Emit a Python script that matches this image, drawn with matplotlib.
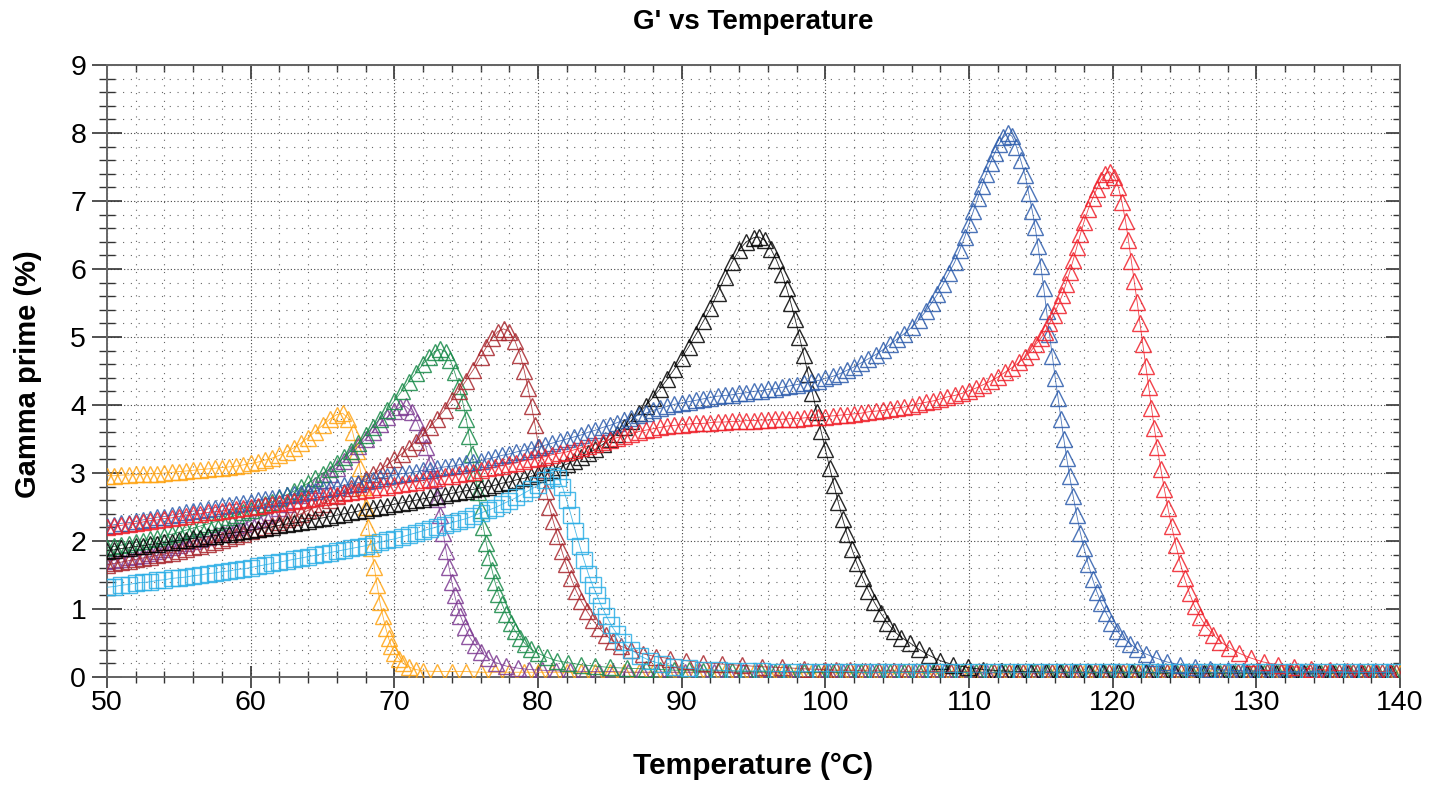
import matplotlib
matplotlib.use("Agg")
import matplotlib.pyplot as plt
from matplotlib.ticker import MultipleLocator

# ---------------- data ----------------
# ORANGE
orange_T_rise = [50.0, 50.5, 51.0, 51.5, 52.0, 52.5, 53.0, 53.5, 54.0, 54.5,
                 55.0, 55.5, 56.0, 56.5, 57.0, 57.5, 58.0, 58.5, 59.0, 59.5,
                 60.0, 60.5, 61.0, 61.5, 62.0, 62.5, 63.0, 63.5, 64.0, 64.5,
                 65.0, 65.5]
orange_V_rise = [2.96, 2.96, 2.97, 2.97, 2.98, 2.98, 2.99, 2.99, 3.00, 3.01,
                 3.02, 3.03, 3.04, 3.05, 3.06, 3.07, 3.08, 3.09, 3.10, 3.12,
                 3.14, 3.16, 3.19, 3.22, 3.26, 3.31, 3.37, 3.44, 3.52, 3.61,
                 3.70, 3.79]
orange_T_peak = [66.0, 66.4, 66.8, 67.1, 67.4, 67.6, 67.8, 68.0, 68.2, 68.4,
                 68.6, 68.8, 69.0, 69.2, 69.4, 69.6, 69.8, 70.0, 70.3, 70.6,
                 71.0, 71.5]
orange_V_peak = [3.86, 3.88, 3.80, 3.60, 3.33, 3.08, 2.80, 2.50, 2.20, 1.90,
                 1.62, 1.35, 1.10, 0.90, 0.72, 0.57, 0.45, 0.36, 0.27, 0.20,
                 0.15, 0.11]
orange_T_tail = [72, 73, 74, 75, 76, 77, 78, 79, 80, 81,
                 82, 83, 84, 85, 86, 87, 88, 89, 90, 91,
                 92, 93, 94, 95, 96, 97, 98, 99, 100, 101,
                 102, 103, 104, 105, 106, 107, 108, 109, 110, 111,
                 112, 113, 114, 115, 116, 117, 118, 119, 120, 121,
                 122, 123, 124, 125, 126, 127, 128, 129, 130, 131,
                 132, 133, 134, 135, 136, 137, 138, 139, 140]
orange_V_tail = [0.09, 0.08, 0.08, 0.08, 0.07, 0.07, 0.07, 0.07, 0.07, 0.07,
                 0.07, 0.07, 0.07, 0.07, 0.07, 0.07, 0.07, 0.07, 0.07, 0.07,
                 0.07, 0.07, 0.07, 0.07, 0.06, 0.06, 0.06, 0.06, 0.06, 0.06,
                 0.06, 0.06, 0.06, 0.06, 0.06, 0.06, 0.06, 0.06, 0.06, 0.06,
                 0.06, 0.06, 0.06, 0.06, 0.06, 0.06, 0.06, 0.06, 0.06, 0.06,
                 0.06, 0.06, 0.06, 0.06, 0.06, 0.06, 0.06, 0.06, 0.06, 0.06,
                 0.06, 0.06, 0.06, 0.06, 0.06, 0.06, 0.06, 0.06, 0.06]

# PURPLE
purple_T_rise = [50.0, 50.5, 51.0, 51.5, 52.0, 52.5, 53.0, 53.5, 54.0, 54.5,
                 55.0, 55.5, 56.0, 56.5, 57.0, 57.5, 58.0, 58.5, 59.0, 59.5,
                 60.0, 60.5, 61.0, 61.5, 62.0, 62.5, 63.0, 63.5, 64.0, 64.5,
                 65.0, 65.5, 66.0, 66.5, 67.0, 67.5, 68.0, 68.5, 69.0, 69.5]
purple_V_rise = [1.70, 1.72, 1.74, 1.76, 1.78, 1.80, 1.83, 1.85, 1.88, 1.91,
                 1.94, 1.97, 2.00, 2.03, 2.06, 2.10, 2.13, 2.17, 2.21, 2.25,
                 2.29, 2.33, 2.38, 2.43, 2.48, 2.54, 2.60, 2.67, 2.74, 2.82,
                 2.90, 2.99, 3.08, 3.18, 3.28, 3.39, 3.50, 3.61, 3.72, 3.82]
purple_T_peak = [70.0, 70.4, 70.8, 71.2, 71.6, 71.9, 72.2, 72.5, 72.75, 73.0,
                 73.2, 73.4, 73.6, 73.8, 74.0, 74.2, 74.4, 74.6, 74.9, 75.2,
                 75.6, 76.0, 76.5, 77.1, 77.8, 78.6, 79.4]
purple_V_peak = [3.91, 3.97, 3.98, 3.90, 3.75, 3.58, 3.38, 3.15, 2.90, 2.62,
                 2.38, 2.12, 1.86, 1.62, 1.40, 1.20, 1.03, 0.90, 0.74, 0.60,
                 0.47, 0.37, 0.28, 0.21, 0.16, 0.13, 0.11]
purple_T_tail = [80.25, 81.25, 82.25, 83.25, 84.25, 85.25, 86.25, 87.25, 88.25, 89.25,
                 90.25, 91.25, 92.25, 93.25, 94.25, 95.25, 96.25, 97.25, 98.25, 99.25,
                 100.25, 101.25, 102.25, 103.25, 104.25, 105.25, 106.25, 107.25, 108.25, 109.25,
                 110.25, 111.25, 112.25, 113.25, 114.25, 115.25, 116.25, 117.25, 118.25, 119.25,
                 120.25, 121.25, 122.25, 123.25, 124.25, 125.25, 126.25, 127.25, 128.25, 129.25,
                 130.25, 131.25, 132.25, 133.25, 134.25, 135.25, 136.25, 137.25, 138.25, 139.25]
purple_V_tail = [0.10, 0.09, 0.09, 0.08, 0.08, 0.08, 0.07, 0.07, 0.07, 0.07,
                 0.07, 0.07, 0.07, 0.07, 0.07, 0.07, 0.07, 0.07, 0.07, 0.07,
                 0.07, 0.07, 0.07, 0.07, 0.07, 0.07, 0.07, 0.07, 0.07, 0.07,
                 0.06, 0.06, 0.06, 0.06, 0.06, 0.06, 0.06, 0.06, 0.06, 0.06,
                 0.06, 0.06, 0.06, 0.06, 0.06, 0.06, 0.06, 0.06, 0.06, 0.06,
                 0.06, 0.06, 0.06, 0.06, 0.06, 0.06, 0.06, 0.06, 0.06, 0.06]

# GREEN
green_T_rise = [50.0, 50.5, 51.0, 51.5, 52.0, 52.5, 53.0, 53.5, 54.0, 54.5,
                55.0, 55.5, 56.0, 56.5, 57.0, 57.5, 58.0, 58.5, 59.0, 59.5,
                60.0, 60.5, 61.0, 61.5, 62.0, 62.5, 63.0, 63.5, 64.0, 64.5,
                65.0, 65.5, 66.0, 66.5, 67.0, 67.5, 68.0, 68.5, 69.0, 69.5,
                70.0, 70.5, 71.0, 71.5]
green_V_rise = [1.90, 1.92, 1.94, 1.96, 1.98, 2.00, 2.03, 2.05, 2.08, 2.10,
                2.13, 2.16, 2.19, 2.22, 2.25, 2.28, 2.31, 2.35, 2.38, 2.42,
                2.46, 2.50, 2.54, 2.58, 2.63, 2.68, 2.73, 2.79, 2.85, 2.92,
                2.99, 3.06, 3.14, 3.23, 3.33, 3.44, 3.56, 3.68, 3.80, 3.93,
                4.06, 4.20, 4.34, 4.47]
green_T_peak = [72.0, 72.4, 72.8, 73.2, 73.6, 73.9, 74.2, 74.5, 74.75, 75.0,
                75.2, 75.4, 75.6, 75.8, 76.0, 76.2, 76.4, 76.6, 76.8, 77.0,
                77.25, 77.5, 77.8, 78.1, 78.4, 78.75, 79.1, 79.5, 80.0, 80.6,
                81.3, 82.1, 83.0, 84.0, 85.0, 86.2, 87.5]
green_V_peak = [4.60, 4.70, 4.78, 4.82, 4.78, 4.66, 4.48, 4.28, 4.05, 3.80,
                3.55, 3.28, 3.00, 2.72, 2.45, 2.20, 1.97, 1.76, 1.57, 1.40,
                1.22, 1.07, 0.92, 0.79, 0.68, 0.58, 0.49, 0.41, 0.35, 0.29,
                0.24, 0.21, 0.18, 0.16, 0.14, 0.13, 0.12]
green_T_tail = [88.5, 89.5, 90.5, 91.5, 92.5, 93.5, 94.5, 95.5, 96.5, 97.5,
                98.5, 99.5, 100.5, 101.5, 102.5, 103.5, 104.5, 105.5, 106.5, 107.5,
                108.5, 109.5, 110.5, 111.5, 112.5, 113.5, 114.5, 115.5, 116.5, 117.5,
                118.5, 119.5, 120.5, 121.5, 122.5, 123.5, 124.5, 125.5, 126.5, 127.5,
                128.5, 129.5, 130.5, 131.5, 132.5, 133.5, 134.5, 135.5, 136.5, 137.5,
                138.5, 139.5]
green_V_tail = [0.11, 0.10, 0.10, 0.09, 0.09, 0.09, 0.08, 0.08, 0.08, 0.08,
                0.07, 0.07, 0.07, 0.07, 0.07, 0.07, 0.07, 0.07, 0.07, 0.07,
                0.07, 0.07, 0.07, 0.07, 0.07, 0.07, 0.07, 0.07, 0.07, 0.07,
                0.06, 0.06, 0.06, 0.06, 0.06, 0.06, 0.06, 0.06, 0.06, 0.06,
                0.06, 0.06, 0.06, 0.06, 0.06, 0.06, 0.06, 0.06, 0.06, 0.06,
                0.06, 0.06]

# DARK RED
darkred_T_rise = [50.0, 50.5, 51.0, 51.5, 52.0, 52.5, 53.0, 53.5, 54.0, 54.5,
                  55.0, 55.5, 56.0, 56.5, 57.0, 57.5, 58.0, 58.5, 59.0, 59.5,
                  60.0, 60.5, 61.0, 61.5, 62.0, 62.5, 63.0, 63.5, 64.0, 64.5,
                  65.0, 65.5, 66.0, 66.5, 67.0, 67.5, 68.0, 68.5, 69.0, 69.5,
                  70.0, 70.5, 71.0, 71.5, 72.0, 72.5, 73.0, 73.5, 74.0, 74.5,
                  75.0, 75.5]
darkred_V_rise = [1.65, 1.67, 1.69, 1.71, 1.73, 1.75, 1.77, 1.79, 1.81, 1.83,
                  1.86, 1.88, 1.91, 1.93, 1.96, 1.99, 2.02, 2.05, 2.08, 2.11,
                  2.14, 2.17, 2.21, 2.24, 2.28, 2.32, 2.36, 2.40, 2.45, 2.50,
                  2.55, 2.60, 2.66, 2.72, 2.78, 2.84, 2.91, 2.98, 3.05, 3.12,
                  3.20, 3.28, 3.37, 3.46, 3.56, 3.68, 3.80, 3.93, 4.07, 4.21,
                  4.36, 4.52]
darkred_T_peak = [76.0, 76.4, 76.8, 77.2, 77.6, 78.0, 78.4, 78.75, 79.05, 79.3,
                  79.55, 79.8, 80.05, 80.3, 80.55, 80.8, 81.05, 81.35, 81.65, 81.95,
                  82.3, 82.65, 83.0, 83.4, 83.8, 84.25, 84.7, 85.2, 85.8, 86.5,
                  87.3, 88.2, 89.2, 90.3, 91.5, 92.8, 94.2, 95.6, 97.0, 98.5,
                  100.0]
darkred_V_peak = [4.70, 4.85, 4.98, 5.08, 5.12, 5.08, 4.94, 4.74, 4.50, 4.25,
                  3.98, 3.70, 3.38, 3.04, 2.74, 2.50, 2.30, 2.08, 1.86, 1.66,
                  1.45, 1.27, 1.12, 0.97, 0.84, 0.72, 0.62, 0.53, 0.45, 0.39,
                  0.34, 0.30, 0.27, 0.24, 0.21, 0.19, 0.17, 0.15, 0.14, 0.12,
                  0.11]
darkred_T_tail = [100.75, 101.75, 102.75, 103.75, 104.75, 105.75, 106.75, 107.75, 108.75, 109.75,
                  110.75, 111.75, 112.75, 113.75, 114.75, 115.75, 116.75, 117.75, 118.75, 119.75,
                  120.75, 121.75, 122.75, 123.75, 124.75, 125.75, 126.75, 127.75, 128.75, 129.75,
                  130.75, 131.75, 132.75, 133.75, 134.75, 135.75, 136.75, 137.75, 138.75, 139.75]
darkred_V_tail = [0.10, 0.10, 0.09, 0.09, 0.09, 0.08, 0.08, 0.08, 0.08, 0.08,
                  0.07, 0.07, 0.07, 0.07, 0.07, 0.07, 0.07, 0.07, 0.07, 0.07,
                  0.07, 0.07, 0.07, 0.07, 0.07, 0.07, 0.07, 0.07, 0.07, 0.07,
                  0.07, 0.07, 0.07, 0.07, 0.07, 0.07, 0.07, 0.07, 0.07, 0.07]

# CYAN (squares)
cyan_T_rise = [50.0, 50.5, 51.0, 51.5, 52.0, 52.5, 53.0, 53.5, 54.0, 54.5,
               55.0, 55.5, 56.0, 56.5, 57.0, 57.5, 58.0, 58.5, 59.0, 59.5,
               60.0, 60.5, 61.0, 61.5, 62.0, 62.5, 63.0, 63.5, 64.0, 64.5,
               65.0, 65.5, 66.0, 66.5, 67.0, 67.5, 68.0, 68.5, 69.0, 69.5,
               70.0, 70.5, 71.0, 71.5, 72.0, 72.5, 73.0, 73.5, 74.0, 74.5,
               75.0, 75.5, 76.0, 76.5, 77.0, 77.5, 78.0, 78.5, 79.0, 79.5,
               80.0, 80.5]
cyan_V_rise = [1.32, 1.33, 1.35, 1.36, 1.38, 1.39, 1.40, 1.42, 1.43, 1.45,
               1.46, 1.47, 1.49, 1.50, 1.52, 1.53, 1.55, 1.56, 1.58, 1.59,
               1.61, 1.63, 1.65, 1.67, 1.69, 1.71, 1.73, 1.75, 1.77, 1.79,
               1.81, 1.83, 1.85, 1.87, 1.89, 1.91, 1.93, 1.96, 1.98, 2.01,
               2.03, 2.06, 2.09, 2.12, 2.15, 2.18, 2.21, 2.24, 2.27, 2.30,
               2.33, 2.37, 2.41, 2.45, 2.49, 2.54, 2.59, 2.64, 2.70, 2.76,
               2.82, 2.89]
cyan_T_peak = [81.0, 81.4, 81.7, 82.0, 82.3, 82.6, 82.9, 83.2, 83.5, 83.8,
               84.1, 84.4, 84.75, 85.1, 85.5, 85.95, 86.5, 87.1, 87.8, 88.6,
               89.5, 90.5, 91.5]
cyan_V_peak = [2.95, 2.93, 2.80, 2.60, 2.38, 2.15, 1.93, 1.72, 1.52, 1.35,
               1.20, 1.05, 0.90, 0.76, 0.63, 0.51, 0.40, 0.31, 0.24, 0.19,
               0.15, 0.13, 0.11]
cyan_T_tail = [92.6, 93.6, 94.6, 95.6, 96.6, 97.6, 98.6, 99.6, 100.6, 101.6,
               102.6, 103.6, 104.6, 105.6, 106.6, 107.6, 108.6, 109.6, 110.6, 111.6,
               112.6, 113.6, 114.6, 115.6, 116.6, 117.6, 118.6, 119.6, 120.6, 121.6,
               122.6, 123.6, 124.6, 125.6, 126.6, 127.6, 128.6, 129.6, 130.6, 131.6,
               132.6, 133.6, 134.6, 135.6, 136.6, 137.6, 138.6, 139.6]
cyan_V_tail = [0.10, 0.09, 0.09, 0.09, 0.08, 0.08, 0.08, 0.08, 0.08, 0.08,
               0.07, 0.07, 0.07, 0.07, 0.07, 0.07, 0.07, 0.07, 0.07, 0.07,
               0.07, 0.07, 0.07, 0.07, 0.07, 0.07, 0.07, 0.07, 0.07, 0.07,
               0.07, 0.07, 0.07, 0.07, 0.07, 0.07, 0.07, 0.07, 0.07, 0.07,
               0.07, 0.07, 0.07, 0.07, 0.07, 0.07, 0.07, 0.07]

# BLACK
black_T_rise = [50.0, 50.5, 51.0, 51.5, 52.0, 52.5, 53.0, 53.5, 54.0, 54.5,
                55.0, 55.5, 56.0, 56.5, 57.0, 57.5, 58.0, 58.5, 59.0, 59.5,
                60.0, 60.5, 61.0, 61.5, 62.0, 62.5, 63.0, 63.5, 64.0, 64.5,
                65.0, 65.5, 66.0, 66.5, 67.0, 67.5, 68.0, 68.5, 69.0, 69.5,
                70.0, 70.5, 71.0, 71.5, 72.0, 72.5, 73.0, 73.5, 74.0, 74.5,
                75.0, 75.5, 76.0, 76.5, 77.0, 77.5, 78.0, 78.5, 79.0, 79.5,
                80.0, 80.5, 81.0, 81.5, 82.0, 82.5, 83.0, 83.5, 84.0, 84.5,
                85.0, 85.5, 86.0, 86.5, 87.0, 87.5]
black_V_rise = [1.86, 1.87, 1.89, 1.90, 1.92, 1.93, 1.95, 1.96, 1.98, 1.99,
                2.01, 2.02, 2.04, 2.05, 2.07, 2.08, 2.10, 2.11, 2.13, 2.14,
                2.16, 2.18, 2.19, 2.21, 2.23, 2.25, 2.26, 2.28, 2.30, 2.32,
                2.34, 2.36, 2.38, 2.40, 2.42, 2.44, 2.46, 2.48, 2.50, 2.52,
                2.54, 2.56, 2.58, 2.60, 2.62, 2.64, 2.66, 2.68, 2.70, 2.72,
                2.74, 2.76, 2.78, 2.80, 2.82, 2.85, 2.87, 2.90, 2.92, 2.95,
                2.98, 3.01, 3.05, 3.09, 3.13, 3.18, 3.23, 3.29, 3.35, 3.42,
                3.50, 3.58, 3.67, 3.77, 3.88, 3.99]
black_T_peak = [88.0, 88.5, 89.0, 89.5, 90.0, 90.5, 91.0, 91.5, 92.0, 92.5,
                93.0, 93.5, 94.0, 94.5, 95.0, 95.4, 95.8, 96.2, 96.6, 97.0,
                97.3, 97.6, 97.9, 98.2, 98.5, 98.8, 99.1, 99.4, 99.7, 100.0,
                100.3, 100.6, 100.9, 101.2, 101.5, 101.85, 102.2, 102.6, 103.0, 103.4,
                103.85, 104.3, 104.8, 105.3, 105.9, 106.5, 107.2, 108.0, 108.9, 109.9,
                111.0, 112.2]
black_V_peak = [4.11, 4.24, 4.38, 4.53, 4.69, 4.86, 5.04, 5.23, 5.42, 5.64,
                5.88, 6.10, 6.28, 6.40, 6.46, 6.47, 6.42, 6.30, 6.13, 5.92,
                5.72, 5.50, 5.26, 5.00, 4.73, 4.46, 4.18, 3.90, 3.62, 3.35,
                3.08, 2.82, 2.57, 2.33, 2.11, 1.88, 1.67, 1.46, 1.27, 1.10,
                0.94, 0.80, 0.67, 0.58, 0.50, 0.41, 0.32, 0.24, 0.18, 0.14,
                0.11, 0.09]
black_T_tail = [113.35, 114.35, 115.35, 116.35, 117.35, 118.35, 119.35, 120.35, 121.35, 122.35,
                123.35, 124.35, 125.35, 126.35, 127.35, 128.35, 129.35, 130.35, 131.35, 132.35,
                133.35, 134.35, 135.35, 136.35, 137.35, 138.35, 139.35]
black_V_tail = [0.08, 0.08, 0.07, 0.07, 0.07, 0.07, 0.07, 0.07, 0.07, 0.07,
                0.06, 0.06, 0.06, 0.06, 0.06, 0.06, 0.06, 0.06, 0.06, 0.06,
                0.06, 0.06, 0.06, 0.06, 0.06, 0.06, 0.06]

# BLUE
blue_T_rise = [50.0, 50.5, 51.0, 51.5, 52.0, 52.5, 53.0, 53.5, 54.0, 54.5,
               55.0, 55.5, 56.0, 56.5, 57.0, 57.5, 58.0, 58.5, 59.0, 59.5,
               60.0, 60.5, 61.0, 61.5, 62.0, 62.5, 63.0, 63.5, 64.0, 64.5,
               65.0, 65.5, 66.0, 66.5, 67.0, 67.5, 68.0, 68.5, 69.0, 69.5,
               70.0, 70.5, 71.0, 71.5, 72.0, 72.5, 73.0, 73.5, 74.0, 74.5,
               75.0, 75.5, 76.0, 76.5, 77.0, 77.5, 78.0, 78.5, 79.0, 79.5,
               80.0, 80.5, 81.0, 81.5, 82.0, 82.5, 83.0, 83.5, 84.0, 84.5,
               85.0, 85.5, 86.0, 86.5, 87.0, 87.5, 88.0, 88.5, 89.0, 89.5,
               90.0, 90.5, 91.0, 91.5, 92.0, 92.5, 93.0, 93.5, 94.0, 94.5,
               95.0, 95.5, 96.0, 96.5, 97.0, 97.5, 98.0, 98.5, 99.0, 99.5,
               100.0, 100.5, 101.0, 101.5, 102.0, 102.5, 103.0, 103.5, 104.0, 104.5,
               105.0, 105.5, 106.0, 106.5, 107.0]
blue_V_rise = [2.22, 2.24, 2.26, 2.27, 2.29, 2.31, 2.33, 2.35, 2.36, 2.38,
               2.40, 2.42, 2.44, 2.45, 2.47, 2.49, 2.51, 2.53, 2.54, 2.56,
               2.58, 2.60, 2.62, 2.63, 2.65, 2.67, 2.69, 2.71, 2.72, 2.74,
               2.76, 2.78, 2.80, 2.82, 2.84, 2.86, 2.88, 2.90, 2.93, 2.95,
               2.97, 2.99, 3.00, 3.02, 3.04, 3.05, 3.07, 3.09, 3.10, 3.12,
               3.14, 3.16, 3.18, 3.21, 3.23, 3.26, 3.28, 3.31, 3.33, 3.36,
               3.38, 3.41, 3.44, 3.47, 3.50, 3.53, 3.56, 3.60, 3.63, 3.67,
               3.70, 3.74, 3.78, 3.81, 3.85, 3.88, 3.92, 3.95, 3.98, 4.01,
               4.03, 4.05, 4.07, 4.09, 4.11, 4.13, 4.14, 4.15, 4.17, 4.18,
               4.20, 4.21, 4.23, 4.24, 4.26, 4.28, 4.30, 4.32, 4.34, 4.36,
               4.39, 4.42, 4.46, 4.51, 4.56, 4.62, 4.68, 4.74, 4.81, 4.89,
               4.97, 5.05, 5.14, 5.25, 5.38]
blue_T_peak = [107.4, 107.8, 108.2, 108.6, 109.0, 109.35, 109.7, 110.0, 110.3, 110.6,
               110.9, 111.2, 111.5, 111.8, 112.1, 112.4, 112.7, 113.0, 113.3, 113.6,
               113.9, 114.15, 114.4, 114.6, 114.8, 115.0, 115.2, 115.4, 115.6, 115.8,
               116.0, 116.2, 116.4, 116.6, 116.8, 117.0, 117.25, 117.5, 117.75, 118.0,
               118.3, 118.6, 118.9, 119.2, 119.55, 119.9, 120.3, 120.7, 121.2, 121.7,
               122.3, 123.0, 123.8, 124.7, 125.7, 126.8, 128.0]
blue_V_peak = [5.50, 5.63, 5.78, 5.94, 6.10, 6.28, 6.47, 6.66, 6.85, 7.04,
               7.22, 7.40, 7.56, 7.71, 7.84, 7.94, 8.00, 7.95, 7.80, 7.60,
               7.38, 7.12, 6.86, 6.62, 6.34, 6.04, 5.72, 5.38, 5.04, 4.72,
               4.40, 4.10, 3.80, 3.50, 3.22, 2.96, 2.66, 2.38, 2.12, 1.90,
               1.66, 1.44, 1.25, 1.09, 0.94, 0.80, 0.68, 0.58, 0.49, 0.41,
               0.34, 0.28, 0.22, 0.18, 0.14, 0.12, 0.10]
blue_T_tail = [129.1, 130.1, 131.1, 132.1, 133.1, 134.1, 135.1, 136.1, 137.1, 138.1, 139.1]
blue_V_tail = [0.09, 0.09, 0.08, 0.08, 0.08, 0.08, 0.07, 0.07, 0.07, 0.07, 0.07]

# RED
red_T_rise = [50.0, 50.5, 51.0, 51.5, 52.0, 52.5, 53.0, 53.5, 54.0, 54.5,
              55.0, 55.5, 56.0, 56.5, 57.0, 57.5, 58.0, 58.5, 59.0, 59.5,
              60.0, 60.5, 61.0, 61.5, 62.0, 62.5, 63.0, 63.5, 64.0, 64.5,
              65.0, 65.5, 66.0, 66.5, 67.0, 67.5, 68.0, 68.5, 69.0, 69.5,
              70.0, 70.5, 71.0, 71.5, 72.0, 72.5, 73.0, 73.5, 74.0, 74.5,
              75.0, 75.5, 76.0, 76.5, 77.0, 77.5, 78.0, 78.5, 79.0, 79.5,
              80.0, 80.5, 81.0, 81.5, 82.0, 82.5, 83.0, 83.5, 84.0, 84.5,
              85.0, 85.5, 86.0, 86.5, 87.0, 87.5, 88.0, 88.5, 89.0, 89.5,
              90.0, 90.5, 91.0, 91.5, 92.0, 92.5, 93.0, 93.5, 94.0, 94.5,
              95.0, 95.5, 96.0, 96.5, 97.0, 97.5, 98.0, 98.5, 99.0, 99.5,
              100.0, 100.5, 101.0, 101.5, 102.0, 102.5, 103.0, 103.5, 104.0, 104.5,
              105.0, 105.5, 106.0, 106.5, 107.0, 107.5, 108.0, 108.5, 109.0, 109.5,
              110.0, 110.5, 111.0, 111.5, 112.0, 112.5, 113.0, 113.5]
red_V_rise = [2.20, 2.22, 2.23, 2.25, 2.26, 2.28, 2.30, 2.31, 2.33, 2.34,
              2.36, 2.37, 2.39, 2.40, 2.42, 2.43, 2.44, 2.46, 2.47, 2.49,
              2.50, 2.51, 2.53, 2.54, 2.56, 2.57, 2.59, 2.60, 2.62, 2.63,
              2.65, 2.67, 2.68, 2.70, 2.72, 2.73, 2.75, 2.77, 2.79, 2.80,
              2.82, 2.84, 2.86, 2.87, 2.89, 2.91, 2.93, 2.95, 2.96, 2.98,
              3.00, 3.02, 3.04, 3.07, 3.09, 3.11, 3.13, 3.15, 3.18, 3.20,
              3.22, 3.24, 3.27, 3.29, 3.31, 3.34, 3.37, 3.40, 3.43, 3.46,
              3.49, 3.52, 3.55, 3.58, 3.61, 3.63, 3.65, 3.67, 3.69, 3.70,
              3.71, 3.72, 3.73, 3.73, 3.74, 3.75, 3.75, 3.76, 3.76, 3.77,
              3.77, 3.78, 3.78, 3.79, 3.79, 3.80, 3.80, 3.81, 3.82, 3.82,
              3.83, 3.84, 3.85, 3.86, 3.87, 3.88, 3.90, 3.91, 3.92, 3.94,
              3.96, 3.97, 3.99, 4.02, 4.04, 4.06, 4.09, 4.12, 4.14, 4.17,
              4.21, 4.25, 4.30, 4.35, 4.41, 4.48, 4.55, 4.63]
red_T_peak = [113.9, 114.3, 114.65, 115.0, 115.3, 115.6, 115.9, 116.2, 116.5, 116.75,
              117.0, 117.25, 117.5, 117.75, 118.0, 118.3, 118.6, 118.9, 119.2, 119.5,
              119.8, 120.1, 120.4, 120.65, 120.9, 121.1, 121.3, 121.5, 121.7, 121.9,
              122.1, 122.3, 122.5, 122.7, 122.9, 123.1, 123.35, 123.6, 123.85, 124.1,
              124.4, 124.7, 125.0, 125.35, 125.7, 126.1, 126.5, 127.0, 127.5, 128.1,
              128.8, 129.6, 130.5, 131.5, 132.6, 133.8, 135.1]
red_V_peak = [4.70, 4.79, 4.89, 4.98, 5.08, 5.20, 5.33, 5.47, 5.62, 5.78,
              5.95, 6.13, 6.32, 6.51, 6.69, 6.88, 7.04, 7.18, 7.31, 7.40,
              7.43, 7.36, 7.20, 6.98, 6.70, 6.42, 6.12, 5.82, 5.52, 5.20,
              4.89, 4.58, 4.27, 3.96, 3.66, 3.38, 3.06, 2.76, 2.48, 2.22,
              1.94, 1.68, 1.45, 1.23, 1.04, 0.88, 0.74, 0.62, 0.52, 0.43,
              0.35, 0.28, 0.22, 0.18, 0.15, 0.12, 0.10]
red_T_tail = [136.3, 137.3, 138.3, 139.3]
red_V_tail = [0.09, 0.08, 0.08, 0.08]

x_ticks = [50, 60, 70, 80, 90, 100, 110, 120, 130, 140]
y_ticks = [0, 1, 2, 3, 4, 5, 6, 7, 8, 9]

series = [
    ("orange", orange_T_rise + orange_T_peak + orange_T_tail,
     orange_V_rise + orange_V_peak + orange_V_tail, "#FFA412", "^"),
    ("purple", purple_T_rise + purple_T_peak + purple_T_tail,
     purple_V_rise + purple_V_peak + purple_V_tail, "#7D3A92", "^"),
    ("green", green_T_rise + green_T_peak + green_T_tail,
     green_V_rise + green_V_peak + green_V_tail, "#178A48", "^"),
    ("darkred", darkred_T_rise + darkred_T_peak + darkred_T_tail,
     darkred_V_rise + darkred_V_peak + darkred_V_tail, "#A8262C", "^"),
    ("black", black_T_rise + black_T_peak + black_T_tail,
     black_V_rise + black_V_peak + black_V_tail, "#000000", "^"),
    ("blue", blue_T_rise + blue_T_peak + blue_T_tail,
     blue_V_rise + blue_V_peak + blue_V_tail, "#2C5CAC", "^"),
    ("red", red_T_rise + red_T_peak + red_T_tail,
     red_V_rise + red_V_peak + red_V_tail, "#F0202A", "^"),
    ("cyan", cyan_T_rise + cyan_T_peak + cyan_T_tail,
     cyan_V_rise + cyan_V_peak + cyan_V_tail, "#2BAEE6", "s"),
]

for name, T, V, c, m in series:
    if len(T) != len(V):
        raise ValueError(f"{name}: {len(T)} temps vs {len(V)} values")

# ---------------- figure ----------------
W, H = 1437, 785
fig = plt.figure(figsize=(W / 100, H / 100), dpi=100)
plt.rcParams["font.family"] = ["Liberation Sans", "DejaVu Sans"]

L, R, T0, B = 107, 1400, 65, 677
ax = fig.add_axes([L / W, 1 - B / H, (R - L) / W, (B - T0) / H])

for name, T, V, c, m in series:
    ax.plot(T, V, color=c, lw=0.6, alpha=0.85, marker=m, ms=12 if m == "^" else 11,
            mfc="none", mec=c, mew=1.0, zorder=3)

ax.set_xlim(50, 140)
ax.set_ylim(0, 9)
ax.set_xticks(x_ticks)
ax.set_yticks(y_ticks)
ax.xaxis.set_minor_locator(MultipleLocator(2))
ax.yaxis.set_minor_locator(MultipleLocator(0.2))

ax.set_axisbelow(True)
ax.grid(which="major", linestyle=(0, (1, 2)), color="#444444", lw=0.8)
ax.grid(which="minor", linestyle=(0, (1, 6)), color="#666666", lw=0.8)

for s in ax.spines.values():
    s.set_color("#666666")
    s.set_linewidth(1.4)

ax.tick_params(axis="x", which="major", direction="inout", length=16, width=1.2,
               color="#333333", labelsize=20.5, pad=1)
ax.tick_params(axis="x", which="minor", direction="inout", length=9, width=1.0,
               color="#333333")
ax.tick_params(axis="y", which="major", direction="inout", length=22, width=1.2,
               color="#333333", labelsize=20.5, pad=4)
ax.tick_params(axis="y", which="minor", direction="inout", length=11, width=1.0,
               color="#333333")

top = ax.secondary_xaxis("top")
top.set_xticks(x_ticks)
top.xaxis.set_minor_locator(MultipleLocator(2))
top.tick_params(which="major", direction="in", length=10, width=1.2, color="#333333",
                labeltop=False)
top.tick_params(which="minor", direction="in", length=5, width=1.0, color="#333333")
top.spines["top"].set_color("#666666")
top.spines["top"].set_linewidth(1.4)

right = ax.secondary_yaxis("right")
right.set_yticks(y_ticks)
right.yaxis.set_minor_locator(MultipleLocator(0.2))
right.tick_params(which="major", direction="in", length=10, width=1.2, color="#333333",
                  labelright=False)
right.tick_params(which="minor", direction="in", length=5, width=1.0, color="#333333")
right.spines["right"].set_color("#666666")
right.spines["right"].set_linewidth(1.4)

ax.set_xlabel("Temperature (°C)", fontsize=21.5, fontweight="bold", va="center")
ax.xaxis.set_label_coords(0.5, (B - 766) / (B - T0))
ax.set_ylabel("Gamma prime (%)", fontsize=21, fontweight="bold", va="center")
ax.yaxis.set_label_coords((28 - L) / (R - L), (B - 374.5) / (B - T0))

fig.text((L + R) / 2 / W, 1 - 22 / H, "G' vs Temperature", fontsize=20,
         fontweight="bold", ha="center", va="center")

fig.savefig("out.png", dpi=100)
